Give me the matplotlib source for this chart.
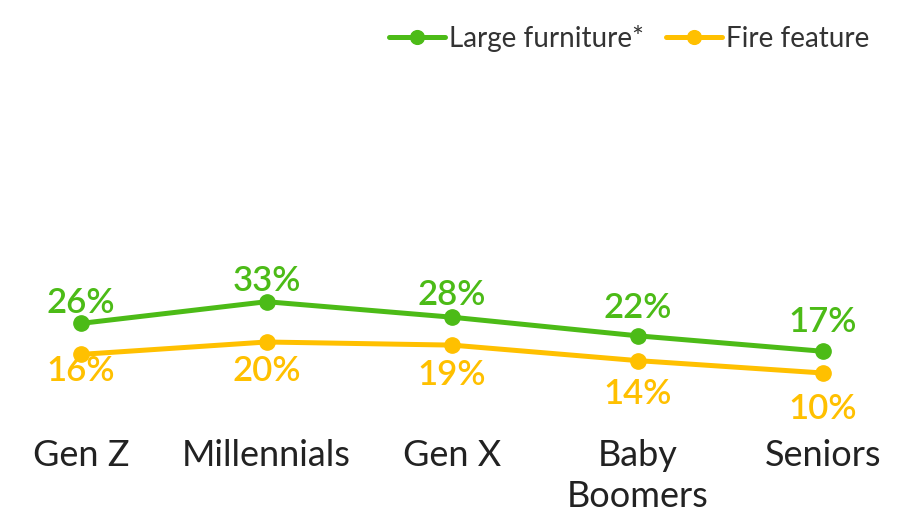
import matplotlib.pyplot as plt

# data
categories = ["Gen Z", "Millennials", "Gen X", "Baby\nBoomers", "Seniors"]
furniture = [26, 33, 28, 22, 17]
fire = [16, 20, 19, 14, 10]

# label baseline offsets (points) so labels sit like in the original
furniture_lbl_dy = [7.5, 7.5, 9, 12.5, 14]
fire_lbl_dy = [-19.5, -28, -29, -31, -33]

GREEN = '#4CBB17'
YELLOW = '#FFC000'

plt.rcParams['font.family'] = ['Lato', 'DejaVu Sans']

fig = plt.figure(figsize=(9.22, 5.12), dpi=100)
ax = fig.add_axes([0, 108 / 512, 1, 310 / 512])

x = list(range(len(categories)))
ax.plot(x, furniture, color=GREEN, lw=3.6, marker='o', ms=11,
        label='Large furniture*', solid_capstyle='round')
ax.plot(x, fire, color=YELLOW, lw=3.6, marker='o', ms=11,
        label='Fire feature', solid_capstyle='round')

for xi, v, dy in zip(x, furniture, furniture_lbl_dy):
    ax.annotate(f'{v}%', (xi, v), xytext=(0, dy), textcoords='offset points',
                ha='center', va='baseline', fontsize=25, fontweight='semibold',
                color=GREEN)
for xi, v, dy in zip(x, fire, fire_lbl_dy):
    ax.annotate(f'{v}%', (xi, v), xytext=(0, dy), textcoords='offset points',
                ha='center', va='baseline', fontsize=25, fontweight='semibold',
                color=YELLOW)

ax.set_xlim(-81 * 4 / 742, 4 + 99 * 4 / 742)
ax.set_ylim(0, 100)
ax.set_xticks(x)
ax.set_xticklabels(categories, fontsize=26, color='#222222',
                   fontweight='normal', linespacing=1.32)
ax.tick_params(axis='x', length=0, pad=25)
ax.set_yticks([])
for s in ax.spines.values():
    s.set_visible(False)

fig.legend(loc='upper right', bbox_to_anchor=(0.97, 1.0), ncol=2,
           frameon=False, handlelength=2.0, handletextpad=0.15,
           columnspacing=0.8, labelcolor='#333333', markerscale=0.9,
           prop={'weight': 'normal', 'size': 20})

plt.savefig('out.png', dpi=100)
